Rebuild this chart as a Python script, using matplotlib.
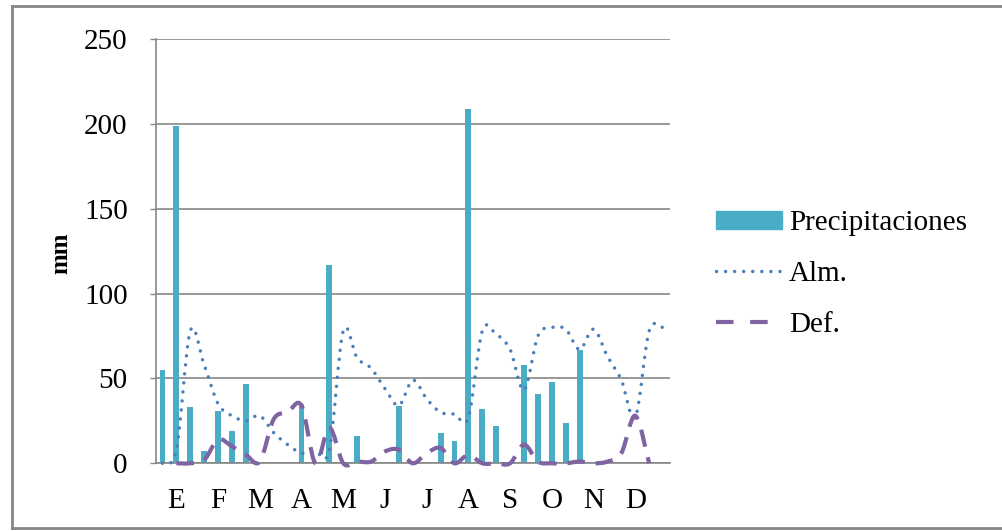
import matplotlib.pyplot as plt
import numpy as np
from matplotlib.path import Path
from matplotlib.patches import PathPatch
from matplotlib.lines import Line2D

# datos decadales (3 por mes, 37 categorias)
meses = ['E', 'F', 'M', 'A', 'M', 'J', 'J', 'A', 'S', 'O', 'N', 'D']
precip = [55, 199, 33, 7, 31, 19, 47, 0, 0, 0, 35, 0, 117, 0, 16, 0, 0, 34, 1,
          1, 18, 13, 209, 32, 22, 0, 58, 41, 48, 24, 67, 0, 0, 0, 0, 0, 0]
alm = [0, 8, 78, 58, 35, 28, 25, 28, 18, 11, 6, 7, 8, 78, 62, 56, 44, 34, 49,
       38, 30, 29, 27, 78, 76, 67, 43, 75, 80, 79, 67, 79, 63, 49, 27, 78, 80]
defi = [np.nan, 0, 0, 2, 14, 10, 5, 1, 26, 30, 34, 0, 21, 0, 1, 1, 7, 8, 0,
        6, 9, 0, 5, 0, 0, 0, 11, 1, 0, 0, 1, 0, 1, 6, 28, 0, np.nan]

C_BAR = '#4BACC6'
C_ALM = '#4A7EBB'
C_DEF = '#8064A2'
GRIS = '#868686'

PUNTOS = (0, (0.01, 2.6))
RAYAS = (0, (4.2, 2.6))


def curva_suave(x, y):
    # linea suavizada tipo Excel (Bezier con puntos de control 1/6)
    verts, codes = [], []
    x = np.asarray(x, float)
    y = np.asarray(y, float)
    idx = np.where(~np.isnan(y))[0]
    xs, ys = x[idx], y[idx]
    n = len(xs)
    verts.append((xs[0], ys[0]))
    codes.append(Path.MOVETO)
    for i in range(n - 1):
        p0 = np.array([xs[max(i - 1, 0)], ys[max(i - 1, 0)]])
        p1 = np.array([xs[i], ys[i]])
        p2 = np.array([xs[i + 1], ys[i + 1]])
        p3 = np.array([xs[min(i + 2, n - 1)], ys[min(i + 2, n - 1)]])
        c1 = p1 + (p2 - p0) / 6
        c2 = p2 - (p3 - p1) / 6
        verts += [tuple(c1), tuple(c2), tuple(p2)]
        codes += [Path.CURVE4] * 3
    return Path(verts, codes)


plt.rcParams['font.family'] = ['Liberation Serif', 'DejaVu Serif']

fig = plt.figure(figsize=(10.02, 5.31), dpi=100)
ax = fig.add_axes([0.1552, 0.1275, 0.5135, 0.7991])

x = np.arange(len(precip))
ax.bar(x, precip, width=0.42, color=C_BAR, zorder=2)

p_alm = PathPatch(curva_suave(x, alm), fill=False, edgecolor=C_ALM,
                  linewidth=2.5, linestyle=PUNTOS, capstyle='round',
                  zorder=3, clip_on=False)
p_def = PathPatch(curva_suave(x, defi), fill=False, edgecolor=C_DEF,
                  linewidth=3.0, linestyle=RAYAS, capstyle='butt',
                  zorder=4, clip_on=False)
ax.add_patch(p_alm)
ax.add_patch(p_def)

ax.set_xlim(-0.5, len(precip) - 0.5)
ax.set_ylim(0, 250)
ax.set_yticks(range(0, 251, 50))
ax.set_xticks(np.arange(1, 36, 3))
ax.set_xticklabels(meses)
ax.tick_params(axis='x', length=0, pad=18, labelsize=21)
ax.tick_params(axis='y', length=4, width=1, color=GRIS, pad=16, labelsize=21)
ax.yaxis.grid(True, color=GRIS, linewidth=1.2, zorder=0)
ax.set_axisbelow(True)
for s in ['top', 'right']:
    ax.spines[s].set_visible(False)
for s in ['left', 'bottom']:
    ax.spines[s].set_color(GRIS)
    ax.spines[s].set_linewidth(1.2)

fig.text(0.061, 0.523, 'mm', rotation=90, fontsize=18, fontweight='bold',
         ha='center', va='center')

handles = [plt.Rectangle((0, 0), 1, 1, color=C_BAR),
           Line2D([], [], color=C_ALM, linewidth=2.5, linestyle=PUNTOS,
                  dash_capstyle='round'),
           Line2D([], [], color=C_DEF, linewidth=3.0, linestyle=(0, (4.2, 4.0)))]
fig.legend(handles, ['Precipitaciones', 'Alm.', 'Def.'], loc='center left',
           bbox_to_anchor=(0.700, 0.484), frameon=False, fontsize=21,
           handlelength=2.25, handleheight=0.6, handletextpad=0.25,
           labelspacing=0.85, borderpad=0)

# marco del grafico
fig.add_artist(Line2D([0.0115, 0.0115], [0.006, 0.989], color=GRIS,
                      linewidth=2, transform=fig.transFigure))
fig.add_artist(Line2D([0.0115, 1.0], [0.989, 0.989], color=GRIS,
                      linewidth=2, transform=fig.transFigure))
fig.add_artist(Line2D([0.0115, 1.0], [0.006, 0.006], color=GRIS,
                      linewidth=2, transform=fig.transFigure))

fig.savefig('out.png', dpi=100)
